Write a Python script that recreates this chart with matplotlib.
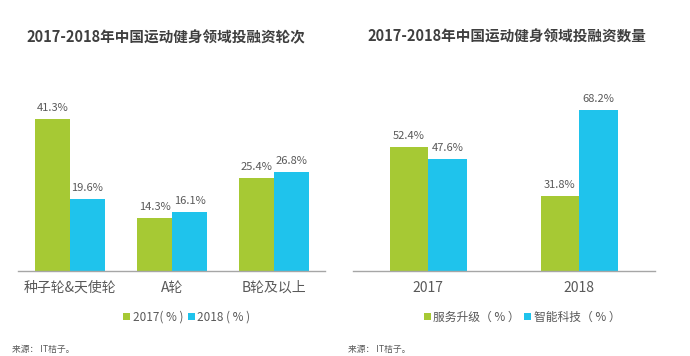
import matplotlib.pyplot as plt
import numpy as np

plt.rcParams['font.family'] = ['Noto Sans CJK SC', 'DejaVu Sans']

# left chart: funding rounds
rounds = ['种子轮&天使轮', 'A轮', 'B轮及以上']
rounds_2017 = [41.3, 14.3, 25.4]
rounds_2018 = [19.6, 16.1, 26.8]

# right chart: funding count by area
years = ['2017', '2018']
service = [52.4, 31.8]
smart_tech = [47.6, 68.2]

green = '#A6C934'
blue = '#1FC3EC'
title_c = '#3F3F3F'
text_c = '#595959'

W, H = 690, 356
fig = plt.figure(figsize=(6.9, 3.56), dpi=100)


def axes_px(x0, x1, base, height):
    return fig.add_axes([x0 / W, 1 - base / H, (x1 - x0) / W, height / H])


def draw(ax, cats, a, b, width, xlim, ymax, label_a, label_b):
    x = np.arange(len(cats))
    b1 = ax.bar(x - width / 2, a, width, color=green, label=label_a)
    b2 = ax.bar(x + width / 2, b, width, color=blue, label=label_b)
    for bars in (b1, b2):
        for r in bars:
            ax.text(r.get_x() + r.get_width() / 2, r.get_height() + ymax * 0.03,
                    '%.1f%%' % r.get_height(), ha='center', va='bottom',
                    fontsize=8, color=text_c)
    ax.set_xlim(*xlim)
    ax.set_ylim(0, ymax)
    ax.set_xticks(x)
    ax.set_xticklabels(cats, fontsize=10, color=text_c)
    ax.tick_params(axis='x', length=0, pad=7)
    ax.set_yticks([])
    for s in ['top', 'left', 'right']:
        ax.spines[s].set_visible(False)
    ax.spines['bottom'].set_color('#A6A6A6')
    ax.spines['bottom'].set_linewidth(1.0)
    return ax


ax1 = axes_px(18, 325, 271, 200)
draw(ax1, rounds, rounds_2017, rounds_2018, 0.343, (-0.51, 2.5), 200 / 3.68,
     '2017( % )', '2018 ( % )')
ax2 = axes_px(353, 655, 271, 200)
draw(ax2, years, service, smart_tech, 0.255, (-0.497, 1.503), 200 / 2.36,
     '服务升级（ % ）', '智能科技（ % ）')

fig.text(166 / W, 1 - 37 / H, '2017-2018年中国运动健身领域投融资轮次', ha='center',
         va='center', fontsize=10.5, fontweight='bold', color=title_c)
fig.text(507 / W, 1 - 37 / H, '2017-2018年中国运动健身领域投融资数量', ha='center',
         va='center', fontsize=10.5, fontweight='bold', color=title_c)

for ax, cx in ((ax1, 187), (ax2, 522)):
    ax.legend(loc='center', bbox_to_anchor=(cx / W, 1 - 317 / H),
              bbox_transform=fig.transFigure, ncol=2, frameon=False,
              fontsize=8.5, handlelength=0.6, handleheight=0.6,
              handletextpad=0.2, columnspacing=0.4, labelcolor=text_c)

fig.text(12 / W, 1 - 349 / H, '来源： IT桔子。', fontsize=6.3, color=text_c, va='center')
fig.text(348 / W, 1 - 349 / H, '来源： IT桔子。', fontsize=6.3, color=text_c, va='center')

fig.savefig('out.png', dpi=100)
